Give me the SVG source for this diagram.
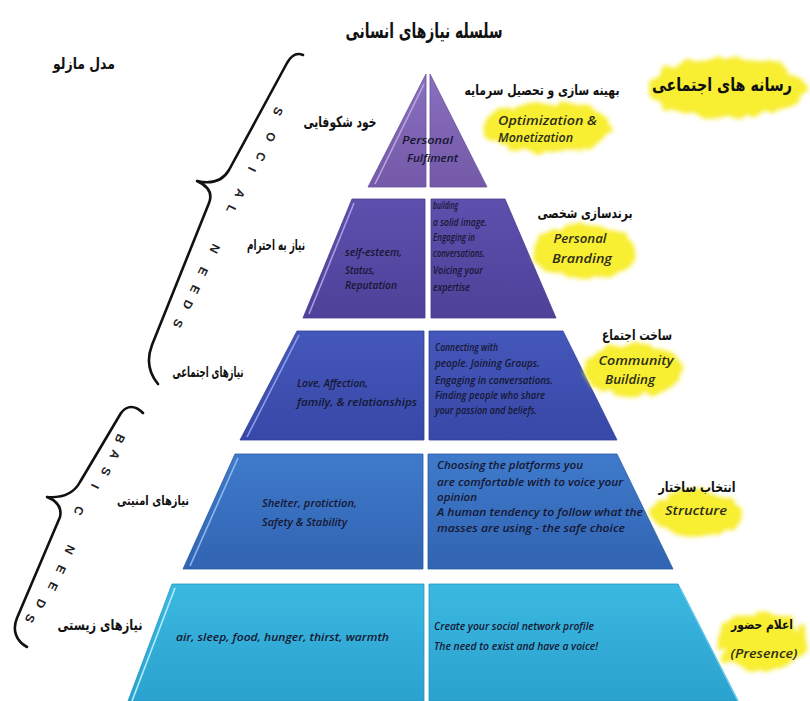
<svg xmlns="http://www.w3.org/2000/svg" width="810" height="701" viewBox="0 0 810 701">
<defs>
<style>
.fa{font-family:"DejaVu Sans",sans-serif;font-weight:bold;fill:#111;text-anchor:middle}
.en{font-family:"Open Sans","Liberation Sans",sans-serif;font-style:italic;font-weight:600;fill:#161733;font-size:10.5px}
.tag{font-family:"Open Sans","Liberation Sans",sans-serif;font-style:italic;font-weight:600;fill:#2e2e16;font-size:13px;text-anchor:middle}
.br{fill:none;stroke:#111;stroke-width:2.6;stroke-linecap:round;stroke-linejoin:round}
.bl{font-family:"Liberation Sans",sans-serif;font-size:12px;font-weight:bold;fill:#222}
.hl{fill:none;stroke-width:1.6}
.splash{fill:#f8ee30;filter:url(#rough)}
</style>
<filter id="rough" x="-30%" y="-40%" width="160%" height="180%">
<feTurbulence type="fractalNoise" baseFrequency="0.07" numOctaves="2" seed="3" result="n"/>
<feDisplacementMap in="SourceGraphic" in2="n" scale="14" xChannelSelector="R" yChannelSelector="G" result="d"/>
<feGaussianBlur in="d" stdDeviation="2.2"/>
</filter>
<linearGradient id="g1" x1="0" y1="0" x2="0" y2="1"><stop offset="0" stop-color="#8a6fbe"/><stop offset="1" stop-color="#7359a8"/></linearGradient>
<linearGradient id="g2" x1="0" y1="0" x2="0" y2="1"><stop offset="0" stop-color="#5d50ae"/><stop offset="1" stop-color="#4e4199"/></linearGradient>
<linearGradient id="g3" x1="0" y1="0" x2="0" y2="1"><stop offset="0" stop-color="#4457ba"/><stop offset="1" stop-color="#3848a8"/></linearGradient>
<linearGradient id="g4" x1="0" y1="0" x2="0" y2="1"><stop offset="0" stop-color="#3f7acb"/><stop offset="1" stop-color="#3164b2"/></linearGradient>
<linearGradient id="g5" x1="0" y1="0" x2="0" y2="1"><stop offset="0" stop-color="#3bb8e0"/><stop offset="1" stop-color="#2aa2cf"/></linearGradient>
</defs>
<rect width="810" height="701" fill="#ffffff"/>

<g id="title"><text class="fa" x="424" y="38" font-size="21" textLength="157" lengthAdjust="spacingAndGlyphs">سلسله نیازهای انسانی</text></g>
<g id="model-label"><text class="fa" x="84" y="69" font-size="16" textLength="62" lengthAdjust="spacingAndGlyphs">مدل مازلو</text></g>

<g id="braces">
<path class="br" d="M303,55 C296,52 291,56 287,63 L229,170 C222,182 210,184 197,181 C208,186 213,193 209,203 L152,345 C147,358 148,372 158,384"/>
<text class="bl" x="276 269 259 249 238 229" y="106 131 151 166 188 204" rotate="116 116 116 116 116 116">SOCIAL</text>
<text class="bl" x="213 201 193 186 176" y="243 266 284 299 318" rotate="116 116 116 116 116">NEEDS</text>
<path class="br" d="M143,413 C135,405 127,405 121,413 L80,482 C73,495 60,498 47,497 C57,501 62,508 60,517 L17,618 C12,630 16,641 27,647"/>
<text class="bl" x="118 113 104 92 77" y="433 449 466 483 505" rotate="116 116 116 116 116">BASIC</text>
<text class="bl" x="68 59 51 39 28" y="544 564 581 598 613" rotate="116 116 116 116 116">NEEDS</text>
</g>

<g id="media-label">
<ellipse class="splash" cx="727" cy="88" rx="78" ry="30"/>
<text class="fa" x="722" y="91" font-size="18" textLength="140" lengthAdjust="spacingAndGlyphs">رسانه های اجتماعی</text>
</g>

<g id="tier1">
<polygon points="426,74 426,187 368,187" fill="url(#g1)" stroke="#6a53a0" stroke-width="0.8"/>
<polygon points="430,74 487,187 430,187" fill="url(#g1)" stroke="#6a53a0" stroke-width="0.8"/>
<path class="hl" stroke="#b9a6dc" d="M424,84 L375,184"/>
<text class="en" x="402" y="144" font-size="11" fill="#2a2340" textLength="51" lengthAdjust="spacingAndGlyphs">Personal</text>
<text class="en" x="407" y="162" font-size="11" fill="#2a2340" textLength="51" lengthAdjust="spacingAndGlyphs">Fulfiment</text>
<text class="fa" x="340" y="127" font-size="15" textLength="73" lengthAdjust="spacingAndGlyphs">خود شکوفایی</text>
<ellipse class="splash" cx="548" cy="127" rx="64" ry="25"/>
<text class="fa" x="542" y="95" font-size="14" textLength="155" lengthAdjust="spacingAndGlyphs">بهینه سازی و تحصیل سرمایه</text>
<text class="tag" x="498" y="125" style="text-anchor:start" textLength="99" lengthAdjust="spacingAndGlyphs">Optimization &amp;</text>
<text class="tag" x="498" y="142" style="text-anchor:start" textLength="75" lengthAdjust="spacingAndGlyphs">Monetization</text>
</g>

<g id="tier2">
<polygon points="352,199 425,199 425,318 303,318" fill="url(#g2)" stroke="#463a8e" stroke-width="0.8"/>
<polygon points="431,199 505,199 556,318 431,318" fill="url(#g2)" stroke="#463a8e" stroke-width="0.8"/>
<path class="hl" stroke="#a79ee0" d="M354,203 L309,314"/>
<text class="en" x="345" y="256" textLength="57" lengthAdjust="spacingAndGlyphs">self-esteem,</text>
<text class="en" x="345" y="274" textLength="30" lengthAdjust="spacingAndGlyphs">Status,</text>
<text class="en" x="345" y="289" textLength="52" lengthAdjust="spacingAndGlyphs">Reputation</text>
<text class="en" x="433" y="209" textLength="25" lengthAdjust="spacingAndGlyphs">building</text>
<text class="en" x="433" y="226" textLength="54" lengthAdjust="spacingAndGlyphs">a solid image.</text>
<text class="en" x="433" y="241" textLength="42" lengthAdjust="spacingAndGlyphs">Engaging in</text>
<text class="en" x="433" y="257" textLength="52" lengthAdjust="spacingAndGlyphs">conversations.</text>
<text class="en" x="433" y="274" textLength="50" lengthAdjust="spacingAndGlyphs">Voicing your</text>
<text class="en" x="433" y="291" textLength="37" lengthAdjust="spacingAndGlyphs">expertise</text>
<text class="fa" x="276" y="250" font-size="15" textLength="58" lengthAdjust="spacingAndGlyphs">نیاز به احترام</text>
<ellipse class="splash" cx="585" cy="252" rx="52" ry="27"/>
<text class="fa" x="585" y="218" font-size="14" textLength="95" lengthAdjust="spacingAndGlyphs">برندسازی شخصی</text>
<text class="tag" x="580" y="243" textLength="53" lengthAdjust="spacingAndGlyphs">Personal</text>
<text class="tag" x="582" y="263" textLength="60" lengthAdjust="spacingAndGlyphs">Branding</text>
</g>

<g id="tier3">
<polygon points="297,331 424,331 424,440 240,440" fill="url(#g3)" stroke="#30409a" stroke-width="0.8"/>
<polygon points="429,331 563,331 617,440 429,440" fill="url(#g3)" stroke="#30409a" stroke-width="0.8"/>
<path class="hl" stroke="#8e9ee6" d="M299,335 L247,437"/>
<text class="en" x="297" y="387" textLength="71" lengthAdjust="spacingAndGlyphs">Love, Affection,</text>
<text class="en" x="297" y="406" textLength="120" lengthAdjust="spacingAndGlyphs">family, &amp; relationships</text>
<text class="en" x="435" y="351" textLength="63" lengthAdjust="spacingAndGlyphs">Connecting with</text>
<text class="en" x="435" y="367" textLength="105" lengthAdjust="spacingAndGlyphs">people. Joining Groups.</text>
<text class="en" x="435" y="384" textLength="118" lengthAdjust="spacingAndGlyphs">Engaging in conversations.</text>
<text class="en" x="435" y="399" textLength="110" lengthAdjust="spacingAndGlyphs">Finding people who share</text>
<text class="en" x="435" y="414" textLength="102" lengthAdjust="spacingAndGlyphs">your passion and beliefs.</text>
<text class="fa" x="208" y="377" font-size="15" textLength="71" lengthAdjust="spacingAndGlyphs">نیازهای اجتماعی</text>
<ellipse class="splash" cx="633" cy="370" rx="50" ry="26"/>
<text class="fa" x="637" y="340" font-size="14" textLength="70" lengthAdjust="spacingAndGlyphs">ساخت اجتماع</text>
<text class="tag" x="636" y="365" textLength="75" lengthAdjust="spacingAndGlyphs">Community</text>
<text class="tag" x="630" y="384" textLength="50" lengthAdjust="spacingAndGlyphs">Building</text>
</g>

<g id="tier4">
<polygon points="235,454 423,454 423,569 183,569" fill="url(#g4)" stroke="#2a5aa4" stroke-width="0.8"/>
<polygon points="428,454 617,454 673,569 428,569" fill="url(#g4)" stroke="#2a5aa4" stroke-width="0.8"/>
<path class="hl" stroke="#8fb7ea" d="M238,458 L190,566"/>
<text class="en" x="262" y="507" textLength="95" lengthAdjust="spacingAndGlyphs">Shelter, protiction,</text>
<text class="en" x="262" y="526" textLength="85" lengthAdjust="spacingAndGlyphs">Safety &amp; Stability</text>
<text class="en" x="437" y="469" textLength="146" lengthAdjust="spacingAndGlyphs">Choosing the platforms you</text>
<text class="en" x="437" y="486" textLength="186" lengthAdjust="spacingAndGlyphs">are comfortable with to voice your</text>
<text class="en" x="437" y="501" textLength="40" lengthAdjust="spacingAndGlyphs">opinion</text>
<text class="en" x="437" y="516" textLength="206" lengthAdjust="spacingAndGlyphs">A human tendency to follow what the</text>
<text class="en" x="437" y="532" textLength="188" lengthAdjust="spacingAndGlyphs">masses are using - the safe choice</text>
<text class="fa" x="153" y="505" font-size="13" textLength="72" lengthAdjust="spacingAndGlyphs">نیازهای امنیتی</text>
<ellipse class="splash" cx="697" cy="514" rx="45" ry="23"/>
<text class="fa" x="697" y="492" font-size="14" textLength="77" lengthAdjust="spacingAndGlyphs">انتخاب ساختار</text>
<text class="tag" x="696" y="515" textLength="62" lengthAdjust="spacingAndGlyphs">Structure</text>
</g>

<g id="tier5">
<polygon points="172,584 424,584 424,701 128,701" fill="url(#g5)" stroke="#2596c2" stroke-width="0.8"/>
<polygon points="429,584 678,584 737,701 429,701" fill="url(#g5)" stroke="#2596c2" stroke-width="0.8"/>
<path class="hl" stroke="#b3ecfb" d="M175,588 L132,701"/>
<path class="hl" stroke="#5fc6ea" d="M680,588 L738,701"/>
<text class="en" x="176" y="641" textLength="213" lengthAdjust="spacingAndGlyphs">air, sleep, food, hunger, thirst, warmth</text>
<text class="en" x="434" y="630" textLength="160" lengthAdjust="spacingAndGlyphs">Create your social network profile</text>
<text class="en" x="434" y="650" textLength="164" lengthAdjust="spacingAndGlyphs">The need to exist and have a voice!</text>
<text class="fa" x="100" y="630" font-size="15" textLength="85" lengthAdjust="spacingAndGlyphs">نیازهای زیستی</text>
<ellipse class="splash" cx="762" cy="642" rx="44" ry="29"/>
<text class="fa" x="762" y="629" font-size="13" textLength="62" lengthAdjust="spacingAndGlyphs">اعلام حضور</text>
<text class="tag" x="764" y="658" textLength="67" lengthAdjust="spacingAndGlyphs">(Presence)</text>
</g>
</svg>
